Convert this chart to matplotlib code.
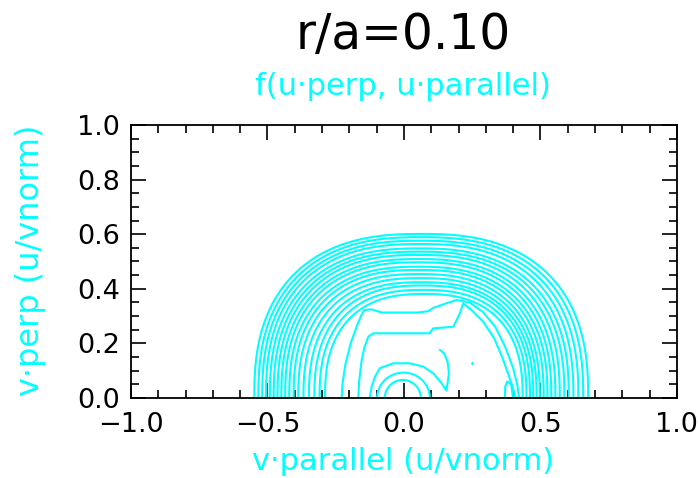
import numpy as np
import matplotlib
matplotlib.use("Agg")
import matplotlib.pyplot as plt
from matplotlib.ticker import MultipleLocator, FuncFormatter

CYAN = "#00FFFF"

# closed shells of f(u_perp, u_par): where each crosses the v_par axis, and its height
shell_left = [-0.548, -0.533, -0.519, -0.505, -0.491, -0.477, -0.463, -0.449, -0.435,
              -0.420, -0.404, -0.387, -0.368, -0.348, -0.328, -0.309, -0.289]
shell_right = [0.675, 0.657, 0.639, 0.621, 0.604, 0.588, 0.571, 0.555, 0.540,
               0.526, 0.512, 0.498, 0.486, 0.474, 0.462, 0.449, 0.435]
shell_top = [0.601, 0.589, 0.576, 0.564, 0.548, 0.536, 0.524, 0.509, 0.497,
             0.481, 0.469, 0.454, 0.439, 0.424, 0.412, 0.396, 0.381]

# small rings around the origin
core_left = [-0.070, -0.098]
core_right = [0.062, 0.095]
core_top = [0.066, 0.093]

# distorted inner levels
lvl5_par = [-0.228, -0.225, -0.215, -0.195, -0.170, -0.155, -0.145, -0.120, -0.080, 0.000,
            0.050, 0.090, 0.107, 0.150, 0.193, 0.240, 0.290, 0.335, 0.370, 0.400, 0.415, 0.422]
lvl5_perp = [0.000, 0.050, 0.120, 0.200, 0.270, 0.305, 0.322, 0.325, 0.313, 0.313,
             0.313, 0.318, 0.330, 0.345, 0.359, 0.350, 0.315, 0.260, 0.190, 0.110, 0.050, 0.000]

lvl4_par = [-0.167, -0.164, -0.156, -0.145, -0.130, -0.112, 0.000, 0.095, 0.107, 0.181,
            0.205, 0.217, 0.250, 0.290, 0.330, 0.360, 0.385, 0.400, 0.410]
lvl4_perp = [0.000, 0.060, 0.130, 0.185, 0.225, 0.237, 0.237, 0.237, 0.255, 0.261,
             0.310, 0.347, 0.320, 0.280, 0.220, 0.150, 0.080, 0.035, 0.000]

hook_par = [-0.125, -0.118, -0.106, -0.088, -0.039, 0.022, 0.071, 0.108, 0.138, 0.156,
            0.165, 0.160, 0.147, 0.132]
hook_perp = [0.000, 0.042, 0.078, 0.109, 0.127, 0.127, 0.115, 0.090, 0.054, 0.027,
             0.090, 0.133, 0.164, 0.176]

bump_par = [0.370, 0.371, 0.378, 0.385, 0.393, 0.400]
bump_perp = [0.000, 0.041, 0.060, 0.058, 0.048, 0.000]

spot_par = [0.249]
spot_perp = [0.127]


def shell(ax, left, right, top, p):
    t = np.linspace(0, np.pi, 200)
    c = (left + right) / 2
    a = (right - left) / 2
    ct, st = np.cos(t), np.sin(t)
    x = c + a * np.sign(ct) * np.abs(ct) ** (2 / p)
    y = top * np.abs(st) ** (2 / p)
    ax.plot(x, y, color=CYAN, lw=1.5)


def fmt(v, pos):
    return f"{v:.1f}".replace("-", "\u2212")


fig = plt.figure(figsize=(7, 4.78), dpi=100)
ax = fig.add_axes([0.187, 0.1674, 0.780, 0.5711])

for l, r, t in zip(shell_left, shell_right, shell_top):
    shell(ax, l, r, t, 2.5)
for l, r, t in zip(core_left, core_right, core_top):
    shell(ax, l, r, t, 2.0)

ax.plot(lvl5_par, lvl5_perp, color=CYAN, lw=1.5)
ax.plot(lvl4_par, lvl4_perp, color=CYAN, lw=1.5)
ax.plot(hook_par, hook_perp, color=CYAN, lw=1.5)
ax.plot(bump_par, bump_perp, color=CYAN, lw=1.5)
ax.plot(spot_par, spot_perp, ".", color=CYAN, ms=2)

ax.set_xlim(-1.0, 1.0)
ax.set_ylim(0.0, 1.0)
ax.xaxis.set_major_locator(MultipleLocator(0.5))
ax.xaxis.set_minor_locator(MultipleLocator(0.1))
ax.yaxis.set_major_locator(MultipleLocator(0.2))
ax.yaxis.set_minor_locator(MultipleLocator(0.05))
ax.xaxis.set_major_formatter(FuncFormatter(fmt))
ax.yaxis.set_major_formatter(FuncFormatter(fmt))
ax.tick_params(which="both", direction="in", top=True, right=True, width=1.2, colors="black")
ax.tick_params(which="major", length=11, labelsize=19.5)
ax.tick_params(axis="x", which="major", pad=10)
ax.tick_params(axis="y", which="major", pad=8)
ax.tick_params(which="minor", length=5.5)
for s in ax.spines.values():
    s.set_linewidth(1.3)

fig.text(0.576, 0.927, "r/a=0.10", ha="center", va="center", fontsize=35, color="black")
fig.text(0.576, 0.818, "f(u·perp, u·parallel)", ha="center", va="center", fontsize=22, color=CYAN)
fig.text(0.576, 0.035, "v·parallel (u/vnorm)", ha="center", va="center", fontsize=22, color=CYAN)
fig.text(0.043, 0.455, "v·perp (u/vnorm)", ha="center", va="center", rotation=90,
         fontsize=23, color=CYAN)

fig.savefig("out.png", dpi=100)
